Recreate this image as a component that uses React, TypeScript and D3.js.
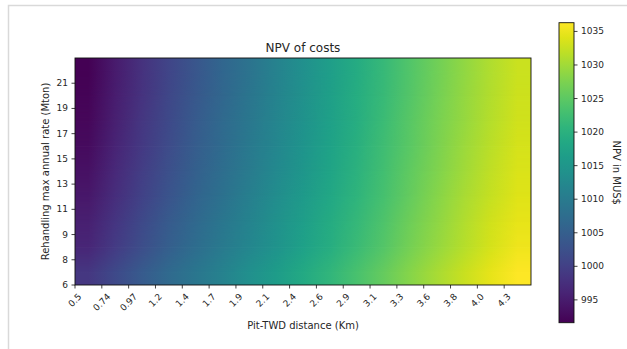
import React from 'react';
import * as d3 from 'd3';

// Categories (tick labels)
const xLabels = ['0.5', '0.74', '0.97', '1.2', '1.4', '1.7', '1.9', '2.1', '2.4', '2.6', '2.9', '3.1', '3.3', '3.6', '3.8', '4.0', '4.3'];
const yLabels = ['6', '8', '9', '11', '13', '15', '17', '19', '21'];

// NPV of costs (MUS$) per rehandling rate row, along Pit-TWD distance
const npv6 = [998.6, 1001.4, 1004.2, 1006.8, 1009.2, 1011.5, 1013.8, 1016.2, 1018.5, 1020.9, 1023.3, 1025.7, 1028.1, 1030.4, 1032.6, 1034.6, 1036.3];
const npv8 = [996.4, 999.3, 1002.2, 1004.9, 1007.4, 1009.8, 1012.2, 1014.6, 1017.0, 1019.5, 1021.9, 1024.4, 1026.9, 1029.2, 1031.4, 1033.5, 1035.2];
const npv9 = [995.5, 998.5, 1001.4, 1004.2, 1006.7, 1009.1, 1011.6, 1014.0, 1016.4, 1018.9, 1021.4, 1023.9, 1026.4, 1028.7, 1031.0, 1033.0, 1034.7];
const npv11 = [994.4, 997.4, 1000.4, 1003.2, 1005.8, 1008.3, 1010.7, 1013.3, 1015.7, 1018.2, 1020.7, 1023.2, 1025.8, 1028.1, 1030.4, 1032.4, 1034.1];
const npv13 = [993.6, 996.7, 999.7, 1002.5, 1005.1, 1007.6, 1010.1, 1012.7, 1015.1, 1017.7, 1020.2, 1022.8, 1025.3, 1027.7, 1029.9, 1032.0, 1033.7];
const npv15 = [992.9, 996.1, 999.1, 1001.9, 1004.6, 1007.1, 1009.7, 1012.2, 1014.7, 1017.3, 1019.8, 1022.4, 1024.9, 1027.3, 1029.6, 1031.7, 1033.4];
const npv17 = [992.4, 995.6, 998.7, 1001.5, 1004.2, 1006.8, 1009.3, 1011.9, 1014.4, 1016.9, 1019.5, 1022.1, 1024.7, 1027.1, 1029.3, 1031.4, 1033.1];
const npv19 = [992.0, 995.1, 998.2, 1001.1, 1003.8, 1006.4, 1009.0, 1011.6, 1014.0, 1016.6, 1019.2, 1021.8, 1024.4, 1026.8, 1029.1, 1031.2, 1032.9];
const npv21 = [991.6, 994.8, 997.9, 1000.8, 1003.5, 1006.1, 1008.7, 1011.3, 1013.8, 1016.4, 1019.0, 1021.6, 1024.2, 1026.6, 1028.9, 1031.0, 1032.7];

const colorbarTicks = [995, 1000, 1005, 1010, 1015, 1020, 1025, 1030, 1035];

const npvGrid = [npv6, npv8, npv9, npv11, npv13, npv15, npv17, npv19, npv21];

const FONT = 'DejaVu Sans, sans-serif';
const TEXT = '#262626';

function approxWidth(s: string, fs: number) {
  let w = 0;
  for (const c of s) w += c === '.' ? 0.318 : 0.636;
  return w * fs;
}

export default function App() {
  const W = 627;
  const H = 349;
  const left = 75, right = 531, top = 58, bottom = 285;
  const nx = xLabels.length;
  const ny = yLabels.length;

  const x = d3.scaleLinear().domain([0, nx]).range([left, right]);
  const y = d3.scaleLinear().domain([0, ny]).range([bottom, top]);

  const all = npvGrid.flat();
  const [vmin, vmax] = d3.extent(all) as [number, number];
  const color = d3.scaleSequential(d3.interpolateViridis).domain([vmin, vmax]);

  const cbLeft = 559, cbRight = 574, cbTop = 22.7, cbBottom = 322.7;
  const cy = d3.scaleLinear().domain([vmin, vmax]).range([cbBottom, cbTop]);

  const tickFs = 9;
  const pw = right - left;

  return (
    <svg width={W} height={H} style={{ position: 'absolute', left: 0, top: 0, background: '#fff' }} fontFamily={FONT}>
      <defs>
        {npvGrid.map((row, i) => (
          <linearGradient key={i} id={`row${i}`} gradientUnits="userSpaceOnUse" x1={x(0.5)} x2={x(nx - 0.5)} y1={0} y2={0}>
            {row.map((v, j) => (
              <stop key={j} offset={j / (nx - 1)} stopColor={color(v)} />
            ))}
          </linearGradient>
        ))}
        <linearGradient id="vfade" x1={0} y1={1} x2={0} y2={0}>
          <stop offset={0} stopColor="#fff" stopOpacity={0} />
          <stop offset={1} stopColor="#fff" stopOpacity={1} />
        </linearGradient>
        {d3.range(ny - 1).map((k) => {
          const yb = y(k + 0.5);
          const yt = y(k + 1.5);
          return (
            <mask key={k} id={`m${k}`} maskUnits="userSpaceOnUse" x={left} y={yt - 1} width={pw} height={yb - yt + 2} style={{ maskType: 'alpha' } as any}>
              <rect x={left} y={yt} width={pw} height={yb - yt} fill="url(#vfade)" />
            </mask>
          );
        })}
        <linearGradient id="cbgrad" x1={0} y1={1} x2={0} y2={0}>
          {d3.range(0, 1.0001, 0.05).map((t, i) => (
            <stop key={i} offset={t} stopColor={d3.interpolateViridis(t)} />
          ))}
        </linearGradient>
      </defs>

      {/* screenshot frame */}
      <path d={`M8.5,${H} V5.5 H${W}`} fill="none" stroke="#d9d9d9" strokeWidth={1.5} />

      {/* heatmap */}
      <g>
        <rect x={left} y={y(0.5)} width={pw} height={y(0) - y(0.5)} fill="url(#row0)" />
        <rect x={left} y={y(ny)} width={pw} height={y(ny - 0.5) - y(ny) + 1.2} fill={`url(#row${ny - 1})`} />
        {d3.range(ny - 1).map((k) => {
          const yb = y(k + 0.5);
          const yt = y(k + 1.5);
          return (
            <g key={k}>
              <rect x={left} y={yt} width={pw} height={yb - yt + 0.6} fill={`url(#row${k})`} />
              <rect x={left} y={yt} width={pw} height={yb - yt} fill={`url(#row${k + 1})`} mask={`url(#m${k})`} />
            </g>
          );
        })}
        <rect x={left} y={top} width={pw} height={bottom - top} fill="none" stroke="#111" strokeWidth={0.9} />
      </g>

      {/* x axis */}
      <g>
        {xLabels.map((lab, j) => {
          const tx = x(j);
          const w = approxWidth(lab, tickFs);
          const h = (w + tickFs) * 0.7071;
          const cyy = bottom + 7 + h / 2;
          return (
            <g key={j}>
              <line x1={tx} x2={tx} y1={bottom} y2={bottom + 3.5} stroke="#111" strokeWidth={0.8} />
              <text x={tx} y={cyy} fontSize={tickFs} fill={TEXT} textAnchor="middle" dominantBaseline="central" transform={`rotate(-45 ${tx} ${cyy})`}>
                {lab}
              </text>
            </g>
          );
        })}
        <text x={(left + right) / 2} y={329} fontSize={10} fill={TEXT} textAnchor="middle">
          Pit-TWD distance (Km)
        </text>
      </g>

      {/* y axis */}
      <g>
        {yLabels.map((lab, i) => {
          const ty = y(i);
          return (
            <g key={i}>
              <line x1={left - 3.5} x2={left} y1={ty} y2={ty} stroke="#111" strokeWidth={0.8} />
              <text x={left - 7} y={ty} fontSize={tickFs} fill={TEXT} textAnchor="end" dominantBaseline="central">
                {lab}
              </text>
            </g>
          );
        })}
        <text x={0} y={0} fontSize={10} fill={TEXT} textAnchor="middle" dominantBaseline="central" transform={`translate(45 ${(top + bottom) / 2}) rotate(-90)`}>
          Rehandling max annual rate (Mton)
        </text>
      </g>

      {/* title */}
      <text x={(left + right) / 2} y={52} fontSize={12} fill={TEXT} textAnchor="middle">
        NPV of costs
      </text>

      {/* colorbar */}
      <g>
        <rect x={cbLeft} y={cbTop} width={cbRight - cbLeft} height={cbBottom - cbTop} fill="url(#cbgrad)" stroke="#111" strokeWidth={0.9} />
        {colorbarTicks.map((t) => (
          <g key={t}>
            <line x1={cbRight} x2={cbRight + 3.5} y1={cy(t)} y2={cy(t)} stroke="#111" strokeWidth={0.8} />
            <text x={cbRight + 7} y={cy(t)} fontSize={tickFs} fill={TEXT} dominantBaseline="central">
              {t}
            </text>
          </g>
        ))}
        <text x={0} y={0} fontSize={10} fill={TEXT} textAnchor="middle" dominantBaseline="central" transform={`translate(616 ${(cbTop + cbBottom) / 2}) rotate(90)`}>
          NPV in MUS$
        </text>
      </g>
    </svg>
  );
}
